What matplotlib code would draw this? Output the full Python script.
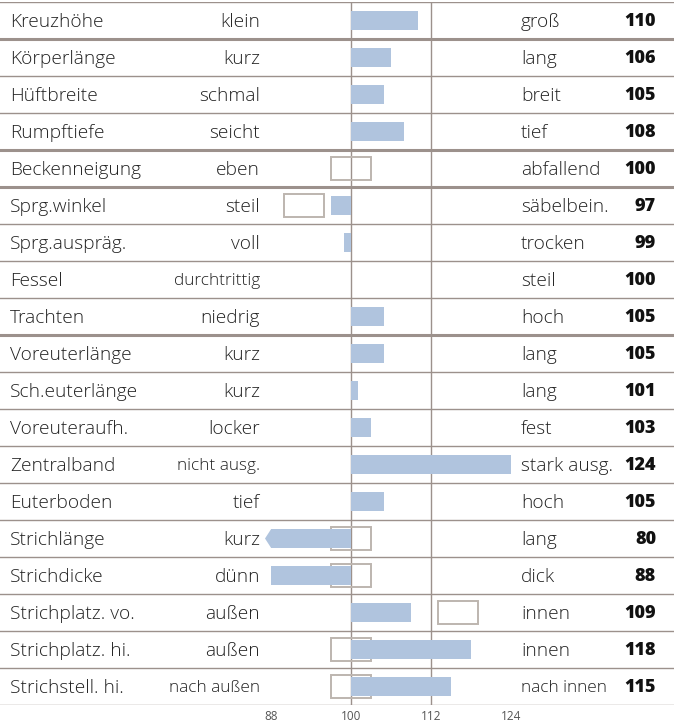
import numpy as np
import matplotlib.pyplot as plt
from matplotlib.patches import Rectangle, Polygon
import matplotlib.transforms as mtransforms

traits = ['Kreuzhöhe', 'Körperlänge', 'Hüftbreite', 'Rumpftiefe', 'Beckenneigung',
          'Sprg.winkel', 'Sprg.auspräg.', 'Fessel', 'Trachten', 'Voreuterlänge',
          'Sch.euterlänge', 'Voreuteraufh.', 'Zentralband', 'Euterboden', 'Strichlänge',
          'Strichdicke', 'Strichplatz. vo.', 'Strichplatz. hi.', 'Strichstell. hi.']
low_labels = ['klein', 'kurz', 'schmal', 'seicht', 'eben', 'steil', 'voll', 'durchtrittig',
              'niedrig', 'kurz', 'kurz', 'locker', 'nicht ausg.', 'tief', 'kurz', 'dünn',
              'außen', 'außen', 'nach außen']
high_labels = ['groß', 'lang', 'breit', 'tief', 'abfallend', 'säbelbein.', 'trocken', 'steil',
               'hoch', 'lang', 'lang', 'fest', 'stark ausg.', 'hoch', 'lang', 'dick',
               'innen', 'innen', 'nach innen']
values = [110, 106, 105, 108, 100, 97, 99, 100, 105, 105, 101, 103, 124, 105, 80, 88, 109, 118, 115]
# optimum range boxes (centre value), None = no box
box_center = [None, None, None, None, 100, 93, None, None, None, None,
              None, None, None, None, 100, 100, 116, 100, 100]
box_width = 6
thick_after = [0, 3, 4, 8]
small_labels = ['durchtrittig', 'nicht ausg.', 'nach außen', 'nach innen']
ticks = [88, 100, 112, 124]

bar_col = '#b0c4de'
line_col = '#9c918c'
box_col = '#bdb5af'
font = ['Open Sans', 'DejaVu Sans']

W, H = 674, 728
fig = plt.figure(figsize=(W / 100, H / 100), dpi=100)
top_px, bot_px = 2, 705
ax = fig.add_axes([0, 1 - bot_px / H, 1, (bot_px - top_px) / H])
# 100 -> 351px, 12 units = 80px
scale = 80 / 12
ax.set_xlim(100 - 351 / scale, 100 + (W - 351) / scale)
n = len(traits)
ax.set_ylim(n, 0)
ax.axis('off')

trans = mtransforms.blended_transform_factory(ax.transAxes, ax.transData)

# row separators
ax.axhline(0, color=line_col, lw=1)
for i in range(n):
    ax.axhline(i + 1, color=line_col, lw=2.2 if i in thick_after else 1)

for t in [100, 112]:
    ax.axvline(t, color=line_col, lw=1)

xmin = ticks[0]
for i, v in enumerate(values):
    y = i + 0.5
    ty = y + 0.04
    if box_center[i] is not None:
        ax.add_patch(Rectangle((box_center[i] - box_width / 2, y - 0.32), box_width, 0.64,
                               fill=False, ec=box_col, lw=1.4, zorder=2))
    if v < xmin:
        ax.barh(y, xmin - 100, left=100, height=0.5, color=bar_col, zorder=3)
        ax.add_patch(Polygon([[xmin, y - 0.25], [xmin - 0.9, y], [xmin, y + 0.25]],
                             closed=True, color=bar_col, zorder=3, lw=0))
    elif v != 100:
        ax.barh(y, v - 100, left=100, height=0.5, color=bar_col, zorder=3)

    ax.text(10 / W, ty, traits[i], transform=trans, ha='left', va='center',
            fontsize=13.8, family=font, fontweight='light', color='#222222')
    fs = 12.4 if low_labels[i] in small_labels else 13.8
    ax.text(260 / W, ty, low_labels[i], transform=trans, ha='right', va='center',
            fontsize=fs, family=font, fontweight='light', color='#222222')
    fs = 12.4 if high_labels[i] in small_labels else 13.8
    ax.text(521 / W, ty, high_labels[i], transform=trans, ha='left', va='center',
            fontsize=fs, family=font, fontweight='light', color='#222222')
    ax.text(656 / W, ty, str(v), transform=trans, ha='right', va='center',
            fontsize=13, family=font, fontweight='heavy', color='#111111')

for t in ticks:
    ax.text(t, n + 0.3, str(t), ha='center', va='center', fontsize=8.5,
            family=font, color='#555555', clip_on=False)

fig.savefig('out.png', dpi=100)
